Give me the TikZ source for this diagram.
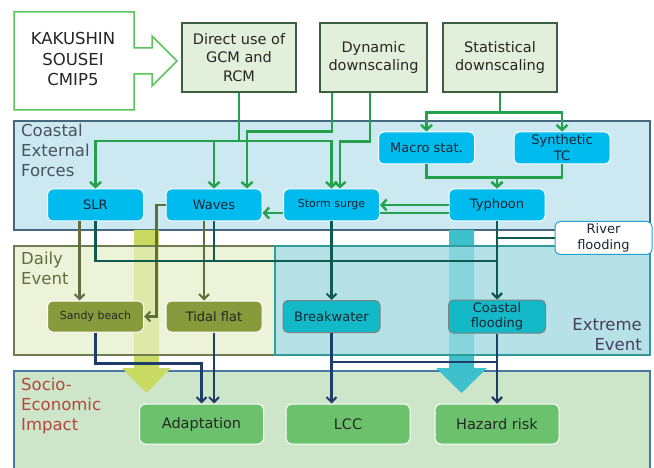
\documentclass[tikz,border=0pt]{standalone}
\usepackage{fontspec}
\setmainfont{DejaVu Sans}
\usetikzlibrary{positioning, arrows.meta, calc}

\definecolor{srcgreen}{HTML}{5CC45C}
\definecolor{topfill}{HTML}{E2EFDA}
\definecolor{topline}{HTML}{3D5E41}
\definecolor{cefill}{HTML}{CCE9F2}
\definecolor{celine}{HTML}{45687C}
\definecolor{cyannode}{HTML}{00BBEE}
\definecolor{dayfill}{HTML}{EDF3D9}
\definecolor{dayline}{HTML}{6E7D50}
\definecolor{olivenode}{HTML}{879A3C}
\definecolor{extfill}{HTML}{B6E1E7}
\definecolor{extline}{HTML}{2F9C9A}
\definecolor{tealnode}{HTML}{13B9C7}
\definecolor{seifill}{HTML}{CDE6C9}
\definecolor{seiline}{HTML}{4A78A4}
\definecolor{seinode}{HTML}{6CC26C}
\definecolor{arrgreen}{HTML}{23A24B}
\definecolor{arrteal}{HTML}{0F5A50}
\definecolor{arrolive}{HTML}{5F6E3C}
\definecolor{arrnavy}{HTML}{1E3E69}
\definecolor{bigyellow}{HTML}{C8DA62}
\definecolor{bigteal}{HTML}{3EC1CD}
\definecolor{txtdark}{HTML}{1B2633}
\definecolor{extext}{HTML}{4B3D5E}
\definecolor{seitext}{HTML}{B4463C}

\tikzset{
  topbox/.style={draw=topline, fill=topfill, line width=1.2pt, align=center, minimum width=114pt, minimum height=69pt, text=black!85, font=\fontsize{14.5}{18.5}\selectfont},
  cebox/.style={draw=white, fill=cyannode, line width=1pt, rounded corners=5pt, align=center, minimum width=96pt, minimum height=32pt, text=txtdark, font=\fontsize{13}{16}\selectfont},
  daybox/.style={draw=white, fill=olivenode, line width=1pt, rounded corners=5pt, align=center, minimum width=96pt, minimum height=31pt, text=black!85, font=\fontsize{13}{16}\selectfont},
  extbox/.style={draw=gray, fill=tealnode, line width=1pt, rounded corners=5pt, align=center, minimum width=97pt, minimum height=32pt, text=txtdark, font=\fontsize{13}{15}\selectfont},
  seibox/.style={draw=white, fill=seinode, line width=1pt, rounded corners=6pt, align=center, minimum width=124pt, minimum height=40pt, text=black!85, font=\fontsize{14.5}{17}\selectfont},
  region/.style={align=left, font=\fontsize{16.5}{20}\selectfont},
  gline/.style={arrgreen, line width=2.4pt, -{Straight Barb[length=5pt,width=11pt]}},
  gplain/.style={arrgreen, line width=2.4pt},
  oline/.style={arrolive, line width=2.1pt, -{Straight Barb[length=5pt,width=10pt]}},
  tline/.style={arrteal, line width=2.1pt, -{Straight Barb[length=5pt,width=10pt]}},
  tplain/.style={arrteal, line width=2.1pt},
  nline/.style={arrnavy, line width=2.1pt, -{Straight Barb[length=5pt,width=10pt]}}
}

\begin{document}
\begin{tikzpicture}[x=1pt, y=-1pt, every node/.style={inner sep=0pt}]
\useasboundingbox (0,0) rectangle (654,468);

% regions
\draw[celine, fill=cefill, line width=1.3pt] (14,121) rectangle (650,230);
\draw[seiline, fill=seifill, line width=1.3pt] (14,371) rectangle (650,490);
\fill[dayfill] (14,246) rectangle (275,355);
\fill[extfill] (275,246) rectangle (650,355);
\fill[bigyellow] (134,230) -- (159,230) -- (159,368) -- (171,368) -- (146.5,393) -- (122,368) -- (134,368) -- cycle;
\fill[bigteal] (449,230) -- (474,230) -- (474,368) -- (487,368) -- (461.5,393) -- (436,368) -- (449,368) -- cycle;
\draw[dayline, fill=dayfill, fill opacity=0.6, line width=1.3pt] (14,246) rectangle (275,355);
\draw[extline, fill=extfill, fill opacity=0.6, line width=1.3pt] (275,246) rectangle (650,355);

\node[region, anchor=north west, text=txtdark!80] (celabel) at (21,124) {Coastal\\External\\Forces};
\node[region, anchor=north west, text=arrolive] (daylabel) at (21,252) {Daily\\Event};
\node[region, anchor=south east, align=right, text=extext] (extlabel) at (642,351) {Extreme\\Event};
\node[region, anchor=north west, text=seitext] (seilabel) at (21,378) {Socio-\\Economic\\Impact};

% sources
\draw[srcgreen, fill=white, line width=1.5pt] (14,12) -- (134,12) -- (134,48) -- (152,48) -- (152,36) -- (177,61) -- (152,86) -- (152,74) -- (134,74) -- (134,110) -- (14,110) -- cycle;
\node[align=center, font=\fontsize{16.5}{20.5}\selectfont, text=black!85] (source) at (73,59) {KAKUSHIN\\SOUSEI\\CMIP5};
\node[topbox] (direct) at (239,57.5) {Direct use of\\GCM and\\RCM};
\node[topbox, minimum width=107pt] (dynamic) at (373.5,57.5) {Dynamic\\downscaling};
\node[topbox] (statist) at (500,57.5) {Statistical\\downscaling};

% coastal external forces
\node[cebox] (slr) at (95.5,205) {SLR};
\node[cebox] (waves) at (214,205) {Waves};
\node[cebox, font=\fontsize{11}{14}\selectfont] (surge) at (331.5,205) {Storm surge};
\node[cebox] (macro) at (426.5,148) {Macro stat.};
\node[cebox] (synth) at (562,148) {Synthetic\\TC};
\node[cebox] (typhoon) at (497,205) {Typhoon};
\node[cebox, fill=white, draw=cyan!70!teal, minimum width=97pt, minimum height=33pt] (river) at (603.5,238) {River\\flooding};

% events
\node[daybox, font=\fontsize{11}{14}\selectfont] (sandy) at (95.5,316.5) {Sandy beach};
\node[daybox] (tidal) at (214,316.5) {Tidal flat};
\node[extbox] (breakw) at (331.5,316.5) {Breakwater};
\node[extbox, minimum height=33pt] (coastfl) at (497,316.5) {Coastal\\flooding};

% impacts
\node[seibox] (adapt) at (201.5,424) {Adaptation};
\node[seibox] (lcc) at (348,424) {LCC};
\node[seibox] (hazard) at (497,424) {Hazard risk};

\coordinate (rowC) at (0,141);
\coordinate (rowE) at (0,261);
\coordinate (rowF) at (0,362);

% downscaling to forces
\draw[gline] (direct.south) -- (direct.south |- rowC) -| (slr.north);
\draw[gline] (direct.south |- rowC) -| (waves.north);
\draw[gline] (direct.south |- rowC) -| (surge.north);
\draw[gline] ([xshift=-41.5pt]dynamic.south) -- ++(0,39) -| ([xshift=33pt]waves.north);
\draw[gline] ([xshift=-3.5pt]dynamic.south) -- ++(0,49) -| ([xshift=8.5pt]surge.north);
\draw[gline] (statist.south) -- ++(0,20) -| (macro.north);
\draw[gline] (statist.south) -- ++(0,20) -| (synth.north);
\draw[gline] (macro.south) -- ++(0,13) -| (typhoon.north);
\draw[gline] (synth.south) -- ++(0,13) -| (typhoon.north);
\draw[gline] (typhoon.west) -- (surge.east);
\draw[gplain] ([yshift=-8pt]typhoon.west) -- ([yshift=-8pt]surge.east);
\draw[gline] ([yshift=-8pt]surge.west) -- ([yshift=-8pt]waves.east);

% forces to events
\draw[oline] ([xshift=-16pt]slr.south) -- ([xshift=-16pt]sandy.north);
\draw[oline] ([xshift=-10pt]waves.south) -- ([xshift=-10pt]tidal.north);
\draw[oline] (waves.west) -- ++(-9,0) |- (sandy.east);
\draw[tline] (slr.south) -- (slr.south |- rowE) -| (coastfl.north);
\draw[tplain] (waves.south) -- (waves.south |- rowE);
\draw[tline] (typhoon.south) -- (coastfl.north);
\draw[tplain] (river.west) -- (typhoon.south |- river.west);
\draw[tline] (surge.south) -- (breakw.north);

% events to impacts
\draw[nline] (sandy.south) -- ++(0,31) -| (adapt.north);
\draw[nline] (tidal.south) -- (tidal.south |- adapt.north);
\draw[nline] (breakw.south) -- (breakw.south |- lcc.north);
\draw[nline] (breakw.south |- rowF) -| (hazard.north);
\draw[nline] (coastfl.south) -- (hazard.north);
\end{tikzpicture}
\end{document}
